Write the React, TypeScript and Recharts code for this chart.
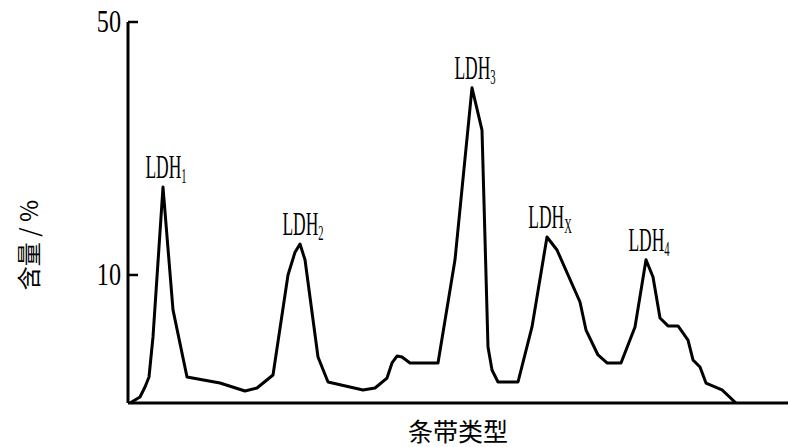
import React from 'react';
import { LineChart, Line, XAxis, YAxis, LabelList } from 'recharts';

// migration distance along the strip (arbitrary units from the origin)
const distance = [
  2, 12, 17, 21, 25, 35, 45, 59, 92, 117, 129, 145, 160, 167, 172, 177, 190, 200,
  235, 247, 259, 264, 269, 274, 282, 310, 327, 344, 354, 360, 364, 370, 390, 404,
  419, 429, 452, 458, 470, 479, 493, 507, 518, 525, 532, 540, 550, 560, 565, 572,
  578, 594, 608,
];
// content (%)
const content = [
  0, 0.47, 1.25, 2.03, 5.16, 23.9, 7.27, 2.03, 1.56, 0.94, 1.17, 2.19, 10.0, 13.6, 14.9, 12.4, 3.59, 1.64,
  1.02, 1.17, 1.95, 3.13, 3.67, 3.59, 3.13, 3.13, 12.4, 39.6, 32.9, 4.38, 2.58, 1.64, 1.64, 5.94,
  16.0, 13.95, 7.89, 5.7, 3.75, 3.13, 3.13, 5.94, 12.4, 9.84, 6.64, 6.02, 6.02, 4.92, 3.36, 2.81,
  1.56, 1.02, 0,
];
const peakNames = ['1', '2', '3', 'X', '4'];
const peakDistance = [35, 172, 344, 419, 518];
const yTickLabels = [10, 50];
const xTitle = '条带类型';
const yTitle = '含量 / %';

// the axis is compressed above 10 (broken scale)
const BREAK = 10;
const UPPER_RATIO = 0.494;
const toDisplay = (v: number) => (v <= BREAK ? v : BREAK + (v - BREAK) * UPPER_RATIO);
const yTicks = yTickLabels.map(toDisplay);

const data = distance.map((d, i) => ({
  d,
  y: toDisplay(content[i]),
  peak: peakNames[peakDistance.indexOf(d)],
}));

const YTick = (props: any) => {
  const { x, y, payload } = props;
  const idx = yTicks.findIndex((t) => Math.abs(t - payload.value) < 1e-6);
  const label = idx >= 0 ? yTickLabels[idx] : '';
  return (
    <g>
      <line x1={x + 7} x2={x + 17} y1={y} y2={y} stroke="#000" strokeWidth={2.5} />
      <g transform={`translate(${x},${y + 10}) scale(0.78,1)`}>
        <text x={0} y={0} textAnchor="end" fontSize={31} fontFamily="Liberation Serif" fill="#000">
          {label}
        </text>
      </g>
    </g>
  );
};

const PeakLabel = (props: any) => {
  const { x, y, value } = props;
  if (!value) return null;
  return (
    <g transform={`translate(${x + 3},${y - 9}) scale(0.53,1)`}>
      <text x={0} y={0} textAnchor="middle" fontSize={33} fontFamily="Liberation Serif" fill="#000">
        <tspan>LDH</tspan>
        <tspan fontSize={20} dy={5}>{value}</tspan>
      </text>
    </g>
  );
};

const XTitle = (props: any) => {
  const vb = props.viewBox || { x: 128, y: 403, width: 660, height: 44 };
  return (
    <text
      x={vb.x + vb.width / 2}
      y={vb.y + 38}
      textAnchor="middle"
      fontSize={25}
      fontFamily="Noto Sans CJK SC"
      fill="#000"
    >
      {xTitle}
    </text>
  );
};

const YTitle = () => (
  <text
    x={0}
    y={0}
    transform="translate(38,245) rotate(-90)"
    textAnchor="middle"
    fontSize={24}
    fontFamily="Noto Sans CJK SC"
    fill="#000"
  >
    {yTitle}
  </text>
);

export default function App() {
  return (
    <div style={{ position: 'absolute', left: 0, top: 0, width: 790, height: 447, background: '#fff' }}>
      <LineChart width={790} height={447} data={data} margin={{ top: 22, right: 2, bottom: 0, left: 0 }}>
        <XAxis
          dataKey="d"
          type="number"
          domain={[0, 660]}
          tick={false}
          tickLine={false}
          height={44}
          axisLine={{ stroke: '#000', strokeWidth: 3 }}
          label={<XTitle />}
        />
        <YAxis
          type="number"
          domain={[0, toDisplay(50)]}
          ticks={yTicks}
          width={128}
          tickSize={0}
          tickMargin={7}
          tickLine={false}
          tick={<YTick />}
          axisLine={{ stroke: '#000', strokeWidth: 3 }}
          label={<YTitle />}
          allowDataOverflow
        />
        <Line
          type="linear"
          dataKey="y"
          stroke="#000"
          strokeWidth={3}
          dot={false}
          strokeLinejoin="round"
          isAnimationActive={false}
        >
          <LabelList dataKey="peak" content={<PeakLabel />} />
        </Line>
      </LineChart>
    </div>
  );
}
